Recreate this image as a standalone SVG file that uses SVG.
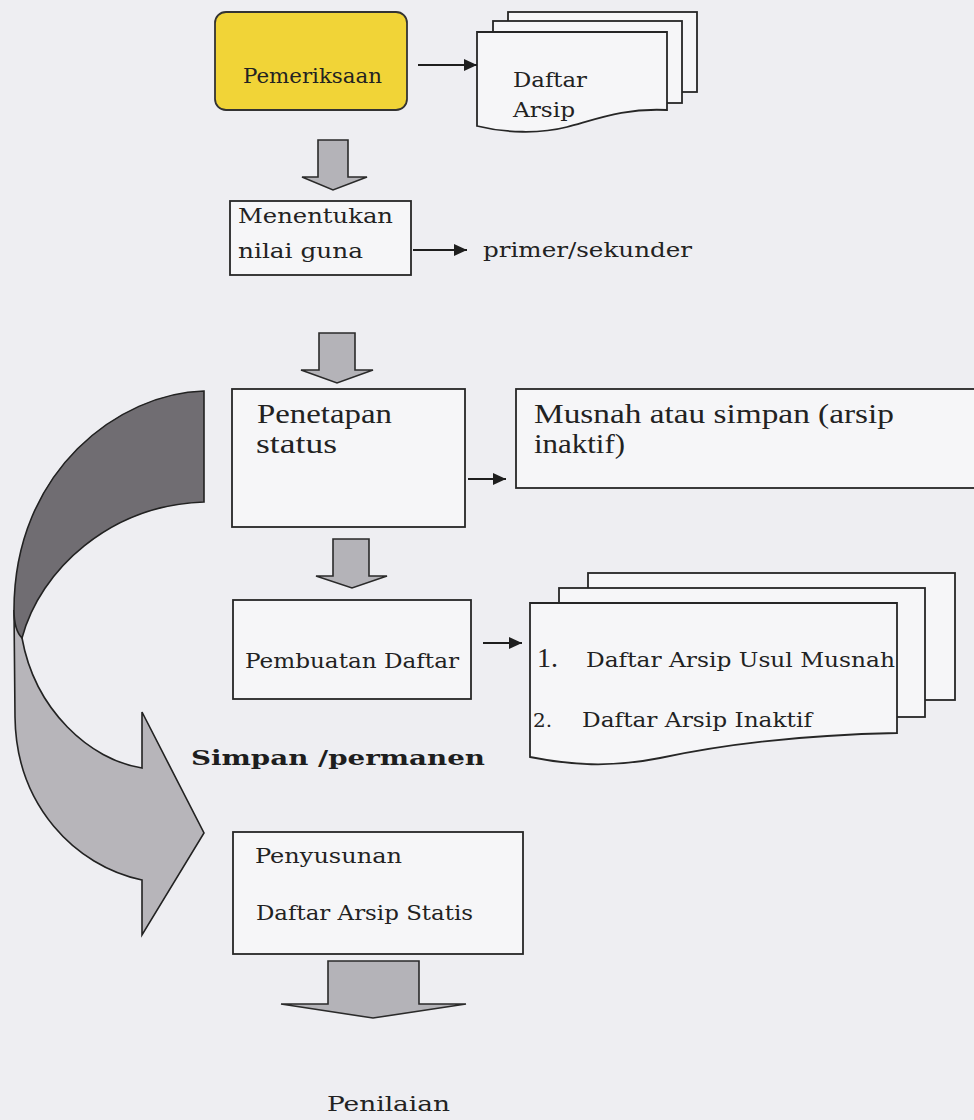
<svg xmlns="http://www.w3.org/2000/svg" width="974" height="1120" viewBox="0 0 974 1120">
<defs>
<style>
.bg{fill:#eeeef2}
.box{fill:#f6f6f8;stroke:#262626;stroke-width:1.8}
.doc{fill:#f6f6f8;stroke:#262626;stroke-width:1.8}
.blk{fill:#b4b3b8;stroke:#2a2a2a;stroke-width:1.6;stroke-linejoin:miter}
.con{stroke:#1e1e1e;stroke-width:2.2;fill:none}
.t{font-family:"DejaVu Serif","Liberation Serif",serif;fill:#222}
.c{font-family:"Liberation Serif","DejaVu Serif",serif;fill:#222}
.b{font-family:"DejaVu Serif","Liberation Serif",serif;font-weight:bold;fill:#1e1e1e}
</style>
<marker id="ah" markerUnits="userSpaceOnUse" markerWidth="14" markerHeight="12" refX="13" refY="6" orient="auto">
<path d="M0,0 L13,6 L0,12 Z" fill="#1e1e1e"/>
</marker>
</defs>
<rect class="bg" x="0" y="0" width="974" height="1120"/>

<g id="curved-arrow">
<path d="M14,610 L15,717 C16,805 75,866 142,880 L142,935 L204,833 L142,712 L142,768 C90,760 35,710 22,638 Q16,625 14,610 Z" fill="#b7b5ba" stroke="#222" stroke-width="1.6"/>
<path d="M204,391 C120,393 14,470 14,610 Q14,630 22,638 C40,570 110,505 204,502 Z" fill="#706d72" stroke="#222" stroke-width="1.6"/>
</g>

<g id="pemeriksaan">
<rect x="215" y="12" width="192" height="98" rx="11" fill="#f1d437" stroke="#333" stroke-width="1.8"/>
<text class="t" x="243" y="83" font-size="20" textLength="139" lengthAdjust="spacingAndGlyphs">Pemeriksaan</text>
</g>

<g id="daftar-arsip">
<rect class="doc" x="508" y="12" width="189" height="80"/>
<rect class="doc" x="493" y="21" width="189" height="82"/>
<path class="doc" d="M477,32 H667 V110 C625,108 600,118 567,127 C540,134 505,133 477,126 Z"/>
<text class="t" x="513" y="87" font-size="21" textLength="74" lengthAdjust="spacingAndGlyphs">Daftar</text>
<text class="t" x="513" y="117" font-size="21" textLength="62" lengthAdjust="spacingAndGlyphs">Arsip</text>
</g>

<g id="menentukan">
<rect class="box" x="230" y="201" width="181" height="74"/>
<text class="t" x="238" y="223" font-size="21" textLength="155" lengthAdjust="spacingAndGlyphs">Menentukan</text>
<text class="t" x="238" y="258" font-size="21" textLength="125" lengthAdjust="spacingAndGlyphs">nilai guna</text>
</g>

<g id="primer-sekunder">
<text class="t" x="483" y="257" font-size="21" textLength="209" lengthAdjust="spacingAndGlyphs">primer/sekunder</text>
</g>

<g id="penetapan">
<rect class="box" x="232" y="389" width="233" height="138"/>
<text class="c" x="257" y="423" font-size="28" textLength="135" lengthAdjust="spacingAndGlyphs">Penetapan</text>
<text class="c" x="256" y="453" font-size="28" textLength="81" lengthAdjust="spacingAndGlyphs">status</text>
</g>

<g id="musnah">
<rect class="box" x="516" y="389" width="470" height="99"/>
<text class="c" x="534" y="423" font-size="28" textLength="360" lengthAdjust="spacingAndGlyphs">Musnah atau simpan (arsip</text>
<text class="c" x="534" y="453" font-size="28" textLength="91" lengthAdjust="spacingAndGlyphs">inaktif)</text>
</g>

<g id="pembuatan">
<rect class="box" x="233" y="600" width="238" height="99"/>
<text class="t" x="245" y="668" font-size="20" textLength="214" lengthAdjust="spacingAndGlyphs">Pembuatan Daftar</text>
</g>

<g id="daftar-list">
<rect class="doc" x="588" y="573" width="367" height="127"/>
<rect class="doc" x="559" y="588" width="366" height="129"/>
<path class="doc" d="M530,603 H897 V733 C800,735 720,745 660,758 C610,768 570,765 530,757 Z"/>
<text class="c" x="537" y="667" font-size="27" textLength="21" lengthAdjust="spacingAndGlyphs">1.</text>
<text class="t" x="586" y="667" font-size="20" textLength="309" lengthAdjust="spacingAndGlyphs">Daftar Arsip Usul Musnah</text>
<text class="t" x="533" y="727" font-size="19" textLength="19" lengthAdjust="spacingAndGlyphs">2.</text>
<text class="t" x="582" y="727" font-size="20" textLength="230" lengthAdjust="spacingAndGlyphs">Daftar Arsip Inaktif</text>
</g>

<g id="simpan-permanen">
<text class="b" x="191" y="765" font-size="21" textLength="294" lengthAdjust="spacingAndGlyphs">Simpan /permanen</text>
</g>

<g id="penyusunan">
<rect class="box" x="233" y="832" width="290" height="122"/>
<text class="t" x="255" y="863" font-size="20" textLength="147" lengthAdjust="spacingAndGlyphs">Penyusunan</text>
<text class="t" x="256" y="920" font-size="20" textLength="217" lengthAdjust="spacingAndGlyphs">Daftar Arsip Statis</text>
</g>

<g id="penilaian">
<text class="t" x="327" y="1111" font-size="21" textLength="123" lengthAdjust="spacingAndGlyphs">Penilaian</text>
</g>

<g id="connectors">
<path class="blk" d="M318,140 H348 V177 H367 L333,190 L302,177 H318 Z"/>
<path class="blk" d="M319,333 H355 V370 H373 L337,383 L301,370 H319 Z"/>
<path class="blk" d="M333,539 H369 V576 H387 L352,588 L316,576 H333 Z"/>
<path class="blk" d="M328,961 H419 V1004 H466 L373,1018 L281,1004 H328 Z"/>
<line class="con" x1="418" y1="65" x2="477" y2="65" marker-end="url(#ah)"/>
<line class="con" x1="413" y1="250" x2="467" y2="250" marker-end="url(#ah)"/>
<line class="con" x1="468" y1="479" x2="506" y2="479" marker-end="url(#ah)"/>
<line class="con" x1="483" y1="643" x2="522" y2="643" marker-end="url(#ah)"/>
</g>
</svg>
